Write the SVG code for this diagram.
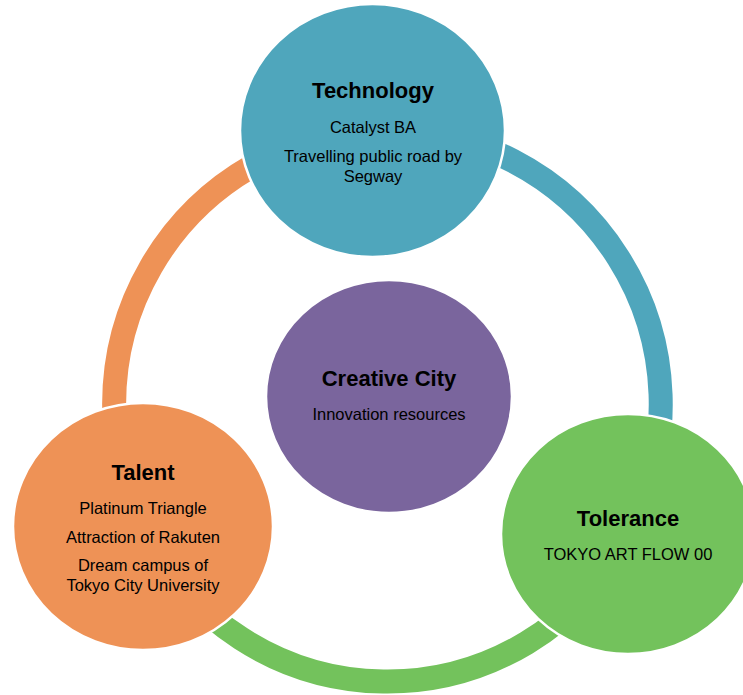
<svg xmlns="http://www.w3.org/2000/svg" width="743" height="695" viewBox="0 0 743 695">
<style>
.arc{fill:none;stroke-width:24}
.node{stroke:#ffffff;stroke-width:2.5}
.t{font-family:"Liberation Sans",Arial,sans-serif;font-size:22px;font-weight:bold;fill:#000;text-anchor:middle}
.b{font-family:"Liberation Sans",Arial,sans-serif;font-size:16.5px;fill:#000;text-anchor:middle}
</style>
<rect width="743" height="695" fill="#ffffff"/>
<g id="connectors">
<path class="arc" stroke="#EE9256" d="M 372.5,130.5 A 274 274 0 0 0 143,526.5"/>
<path class="arc" stroke="#73C25C" d="M 143,526.5 A 270 270 0 0 0 628,534"/>
<path class="arc" stroke="#4FA6BC" d="M 628,534 A 274 274 0 0 0 372.5,130.5"/>
</g>
<g id="technology">
<ellipse class="node" cx="372.5" cy="130.5" rx="132.5" ry="126.5" fill="#4FA6BC"/>
<text class="t" x="373" y="98">Technology</text>
<text class="b" x="373" y="133">Catalyst BA</text>
<text class="b" x="373" y="162">Travelling public road by</text>
<text class="b" x="373" y="182">Segway</text>
</g>
<g id="talent">
<ellipse class="node" cx="143" cy="526.5" rx="130" ry="123.5" fill="#EE9256"/>
<text class="t" x="143" y="480">Talent</text>
<text class="b" x="143" y="514">Platinum Triangle</text>
<text class="b" x="143" y="543">Attraction of Rakuten</text>
<text class="b" x="143" y="571">Dream campus of</text>
<text class="b" x="143" y="591">Tokyo City University</text>
</g>
<g id="tolerance">
<ellipse class="node" cx="628" cy="534" rx="127" ry="120" fill="#73C25C"/>
<text class="t" x="628" y="526">Tolerance</text>
<text class="b" x="628" y="560">TOKYO ART FLOW 00</text>
</g>
<g id="creative-city">
<ellipse class="node" cx="389" cy="396.5" rx="123" ry="116.5" fill="#7A659D"/>
<text class="t" x="389" y="386">Creative City</text>
<text class="b" x="389" y="420">Innovation resources</text>
</g>
</svg>
